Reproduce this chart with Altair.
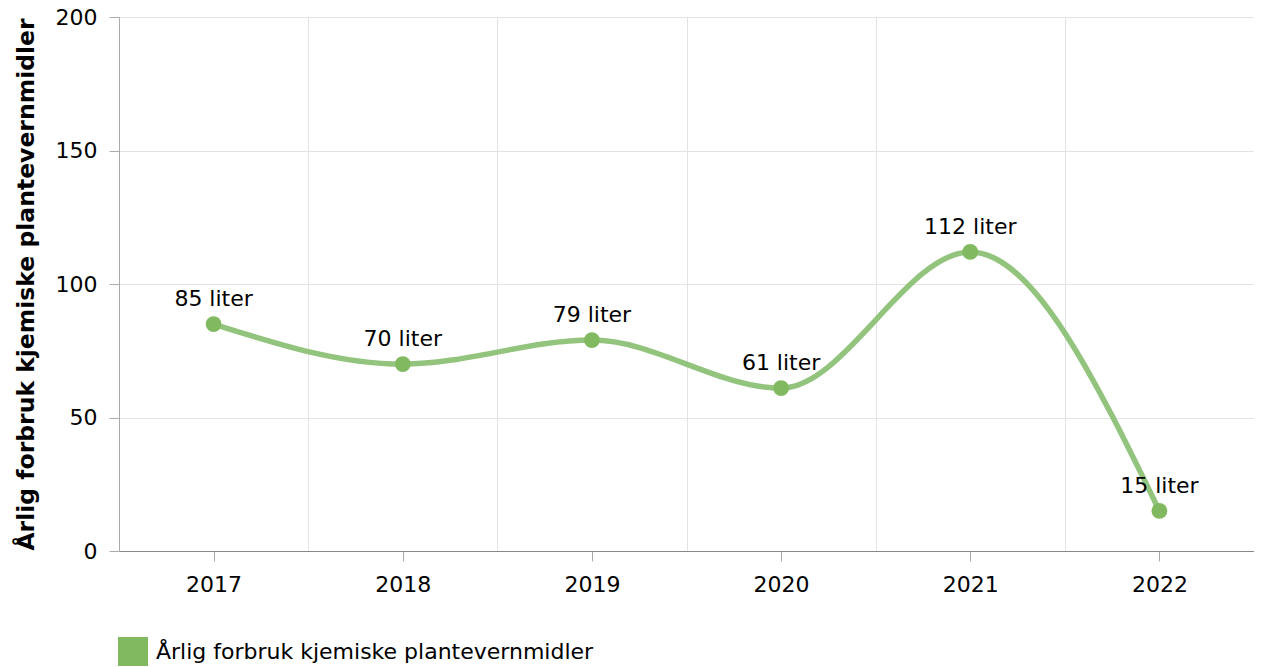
import altair as alt
import pandas as pd

years = [2017, 2018, 2019, 2020, 2021, 2022]
values = [85, 70, 79, 61, 112, 15]
labels = ["85 liter", "70 liter", "79 liter", "61 liter", "112 liter", "15 liter"]
series_name = "Årlig forbruk kjemiske plantevernmidler"
grid_years = [2017.5, 2018.5, 2019.5, 2020.5, 2021.5]

df = pd.DataFrame({"year": years, "value": values, "label": labels, "serie": series_name})

FONT = "DejaVu Sans"
LINE_COLOR = "#93c47d"
POINT_COLOR = "#80b960"
X_DOMAIN = [2016.5, 2022.5]

x_main = alt.X(
    "year:Q",
    scale=alt.Scale(domain=X_DOMAIN, nice=False, zero=False),
    axis=alt.Axis(
        orient="bottom", title=None, grid=False, values=years, format="d", labelAngle=0,
        labelFontSize=22, labelFont=FONT, labelFontWeight="normal", labelColor="#000000",
        domainColor="#888888", tickColor="#aaaaaa", tickSize=10, labelPadding=13,
    ),
)
y_main = alt.Y(
    "value:Q",
    scale=alt.Scale(domain=[0, 200]),
    axis=alt.Axis(
        values=[0, 50, 100, 150, 200], title="Årlig forbruk kjemiske plantevernmidler",
        titleFont=FONT, titleFontSize=23.5, titleFontWeight="bold", titleColor="#000000",
        labelFont=FONT, labelFontSize=22, labelColor="#000000",
        gridColor="#e3e3e3", domainColor="#aaaaaa", tickColor="#aaaaaa", tickSize=10,
        labelPadding=12, titlePadding=17,
    ),
)

base = alt.Chart(df)

grid_layer = base.mark_point(opacity=0).encode(
    x=alt.X(
        "year:Q",
        scale=alt.Scale(domain=X_DOMAIN, nice=False, zero=False),
        axis=alt.Axis(orient="top", title=None, grid=True, gridColor="#e3e3e3", values=grid_years,
                      labels=False, ticks=False, domain=False),
    ),
    y=y_main,
)

line = base.mark_line(interpolate="monotone", color=LINE_COLOR, strokeWidth=5.5).encode(
    x=x_main, y=y_main
)

points = base.mark_circle(size=250, opacity=1).encode(
    x=x_main,
    y=y_main,
    color=alt.Color(
        "serie:N",
        scale=alt.Scale(range=[POINT_COLOR]),
        legend=alt.Legend(
            title=None, orient="none", legendX=-1, legendY=620, symbolType="square",
            symbolSize=900, symbolStrokeWidth=0, labelFont=FONT, labelFontSize=22,
            labelColor="#000000", labelLimit=800, labelOffset=8,
        ),
    ),
)

text = base.mark_text(baseline="bottom", dy=-13, font=FONT, fontSize=22, color="#000000").encode(
    x=x_main, y=y_main, text="label:N"
)

data_layers = alt.layer(line, points, text)

chart = (
    alt.layer(data_layers, grid_layer)
    .resolve_axis(x="independent")
    .properties(
        width=1135, height=534,
        autosize=alt.AutoSizeParams(type="none"),
        padding={"left": 111, "top": 9, "right": 0, "bottom": 115},
    )
    .configure_view(stroke=None)
)

chart.save("out.html", embed_options={"renderer": "svg", "actions": False})
